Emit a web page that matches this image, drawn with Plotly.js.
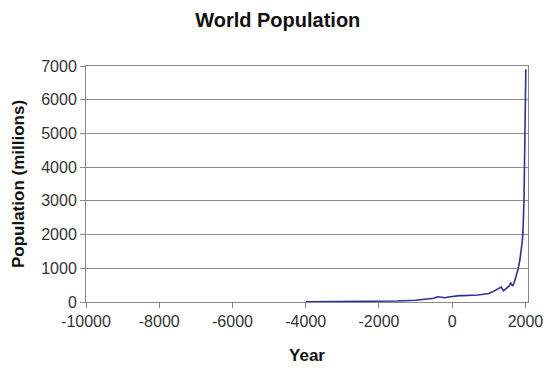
<!DOCTYPE html>
<html>
<head>
<meta charset="utf-8">
<script src="https://cdn.plot.ly/plotly-3.0.1.min.js"></script>
<style>
  html, body { margin: 0; padding: 0; background: #fff; }
  #chart { width: 550px; height: 370px; }
</style>
</head>
<body>
<div id="chart"></div>
<script>
// Year (negative = BC) and world population in millions
const years = [-4000, -3000, -2000, -1500, -1000, -800, -600, -500, -400, -300, -200, -100, 1, 100, 200, 300, 400, 500, 600, 700, 800, 900, 1000, 1100, 1200, 1250, 1300, 1340, 1400, 1450, 1500, 1550, 1600, 1650, 1700, 1750, 1800, 1850, 1900, 1920, 1940, 1950, 1960, 1970, 1980, 1990, 2000, 2010];
const population = [7, 14, 27, 30, 50, 70, 100, 110, 155, 150, 125, 150, 170, 180, 190, 190, 190, 195, 200, 207, 220, 226, 254, 301, 360, 400, 430, 443, 330, 380, 425, 470, 560, 470, 600, 790, 980, 1260, 1650, 1860, 2300, 2520, 3020, 3700, 4440, 5270, 6060, 6900];

const xTickVals = [-10000, -8000, -6000, -4000, -2000, 0, 2000];
const yTickVals = [0, 1000, 2000, 3000, 4000, 5000, 6000, 7000];

const trace = {
  x: years,
  y: population,
  type: 'scatter',
  mode: 'lines',
  line: { color: '#2e3192', width: 1.6 },
  hoverinfo: 'skip'
};

const font = 'Liberation Sans, Arial, sans-serif';

const layout = {
  width: 550,
  height: 370,
  margin: { l: 86, r: 22, t: 66, b: 68, pad: 0 },
  paper_bgcolor: '#ffffff',
  plot_bgcolor: '#ffffff',
  showlegend: false,
  font: { family: font, size: 16, color: '#333333' },
  title: {
    text: '<b>World Population</b>',
    font: { family: font, size: 20, color: '#111111' },
    x: 0.505, xanchor: 'center',
    y: 0.945, yanchor: 'middle'
  },
  xaxis: {
    range: [-10000, 2070],
    tickvals: xTickVals,
    ticktext: xTickVals.map(String),
    ticks: 'outside', ticklen: 5, tickcolor: '#888888', tickwidth: 1,
    showline: true, linecolor: '#888888', linewidth: 1, mirror: true,
    showgrid: false, zeroline: false,
    tickfont: { family: font, size: 16, color: '#333333' },
    title: { text: '<b>Year</b>', font: { family: font, size: 17, color: '#111111' }, standoff: 19 }
  },
  yaxis: {
    range: [0, 7000],
    tickvals: yTickVals,
    ticktext: yTickVals.map(String),
    ticks: 'outside', ticklen: 5, tickcolor: '#888888', tickwidth: 1,
    showline: true, linecolor: '#888888', linewidth: 1, mirror: true,
    showgrid: true, gridcolor: '#8c8c8c', gridwidth: 1, zeroline: false,
    tickfont: { family: font, size: 16, color: '#333333' },
    title: { text: '<b>Population (millions)</b>', font: { family: font, size: 17, color: '#111111' }, standoff: 12 }
  }
};

Plotly.newPlot('chart', [trace], layout, { displayModeBar: false, staticPlot: true });
</script>
</body>
</html>
